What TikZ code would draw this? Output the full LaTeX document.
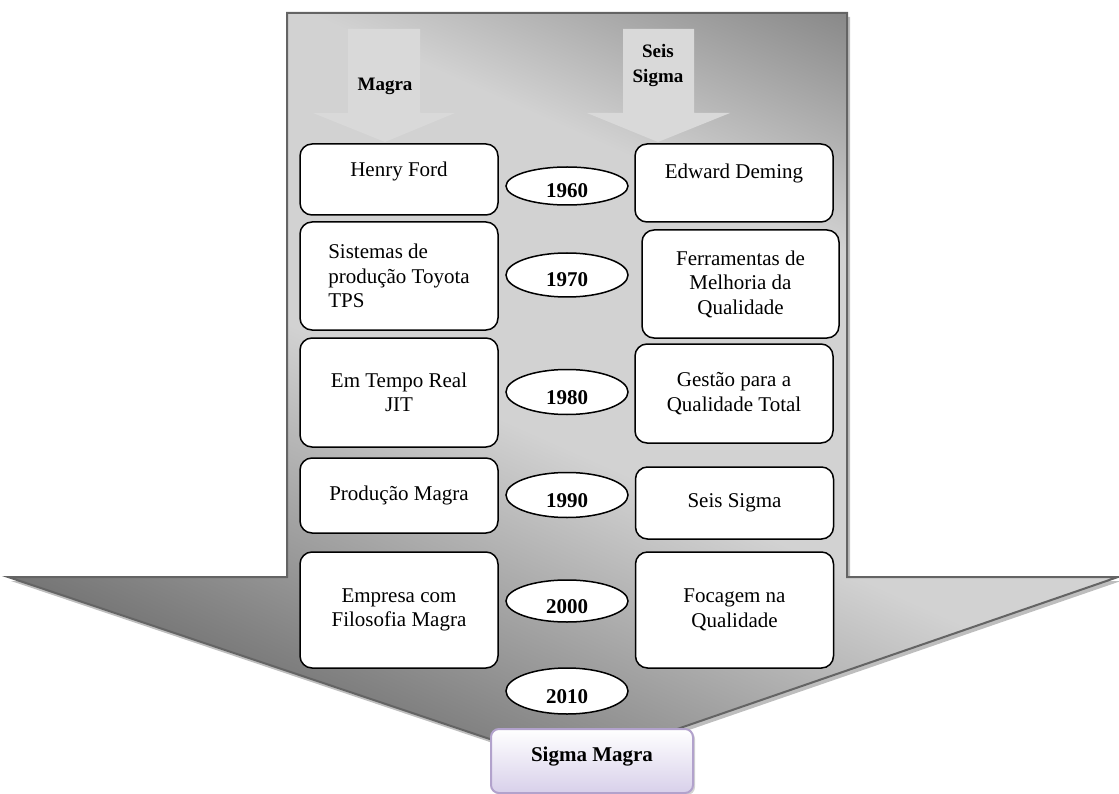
\documentclass[tikz,border=0pt]{standalone}
\usepackage{fontspec}
\setmainfont{Liberation Serif}
\usepackage{tikz}
\usetikzlibrary{shapes.geometric,shadows}

\definecolor{arrowdark}{RGB}{118,118,118}
\definecolor{arrowlight}{RGB}{210,210,210}
\definecolor{arrowedge}{RGB}{100,100,100}
\definecolor{arrowshadow}{RGB}{190,190,190}
\definecolor{smallarrow}{RGB}{217,217,217}
\definecolor{lilacedge}{RGB}{178,162,204}
\definecolor{lilacfill}{RGB}{216,208,234}

\pgfdeclareverticalshading{arrowshade}{100bp}{color(0bp)=(arrowdark); color(27bp)=(arrowdark);
  color(47bp)=(arrowlight); color(64bp)=(arrowlight); color(80bp)=(arrowdark); color(100bp)=(arrowdark)}

\tikzset{
  textbox/.style={draw=black, line width=1.5pt, fill=white, rounded corners=12pt,
    minimum width=198pt, align=center, inner sep=2pt,
    font=\fontsize{21}{24.5}\selectfont},
  yearell/.style={ellipse, draw=black, line width=1.5pt, fill=white,
    minimum width=122pt, inner sep=0pt, text height=24pt, text depth=0pt,
    font=\fontsize{21}{24}\selectfont\bfseries},
  headlabel/.style={align=center, font=\fontsize{19}{25}\selectfont\bfseries},
  finalbox/.style={draw=lilacedge, line width=2pt, rounded corners=8pt,
    top color=white, bottom color=lilacfill, minimum width=202pt, minimum height=64pt,
    text depth=14pt, font=\fontsize{21}{24}\selectfont\bfseries,
    drop shadow={shadow xshift=2pt, shadow yshift=-2pt, opacity=0.35}}
}

\begin{document}
\begin{tikzpicture}[x=1pt, y=-1pt]
\useasboundingbox (0,0) rectangle (1119,794);
%%%%% Big arrow %%%%%
\fill[arrowshadow, xshift=3pt, yshift=-4pt] (287,13) -- (847,13) -- (847,577) -- (1118,577)
  -- (570,766) -- (8,577) -- (287,577) -- cycle;
\draw[line width=2pt, draw=arrowedge, shading=arrowshade, shading angle=-24]
  (287,13) -- (847,13) -- (847,577) -- (1118,577) -- (570,766) -- (8,577) -- (287,577) -- cycle;
%%%%% Small arrows %%%%%
\fill[smallarrow] (348,29) -- (420,29) -- (420,113) -- (455,113) -- (385,142)
  -- (313,113) -- (348,113) -- cycle;
\fill[smallarrow] (623,29) -- (694,29) -- (694,113) -- (730,113) -- (658,142)
  -- (587,113) -- (623,113) -- cycle;
\node[headlabel] (lblMagra) at (385,86) {Magra};
\node[headlabel] (lblSeis) at (658,66) {Seis\\Sigma};
%%%%% Magra column %%%%%
\node[textbox, minimum height=71pt, text depth=20pt] (lean1) at (399,179.5) {Henry Ford};
\node[textbox, minimum height=108pt, align=left] (lean2) at (399,276) {Sistemas de\\produção Toyota\\TPS};
\node[textbox, minimum height=109pt] (lean3) at (399,392.5) {Em Tempo Real\\JIT};
\node[textbox, minimum height=75pt] (lean4) at (399,495.5) {Produção Magra};
\node[textbox, minimum height=116pt] (lean5) at (399,610) {Empresa com\\Filosofia Magra};
%%%%% Seis Sigma column %%%%%
\node[textbox, minimum height=78pt, text depth=24pt] (six1) at (734,183) {Edward Deming};
\node[textbox, minimum height=108pt, minimum width=197pt] (six2) at (740.5,284) {Ferramentas de\\Melhoria da\\Qualidade};
\node[textbox, minimum height=99pt] (six3) at (734,393.5) {Gestão para a\\Qualidade Total};
\node[textbox, minimum height=72pt] (six4) at (734.5,503) {Seis Sigma};
\node[textbox, minimum height=116pt] (six5) at (734.5,610) {Focagem na\\Qualidade};
%%%%% Years %%%%%
\foreach \yr/\yc/\eh in {1960/186/38, 1970/275/44, 1980/392/45, 1990/495/45, 2000/601/42, 2010/691/46}{
\node[yearell, minimum height=\eh pt] (y\yr) at (567,\yc) {\yr};
}
%%%%% Result %%%%%
\node[finalbox] (sigmaMagra) at (592,761) {Sigma Magra};
\end{tikzpicture}
\end{document}
